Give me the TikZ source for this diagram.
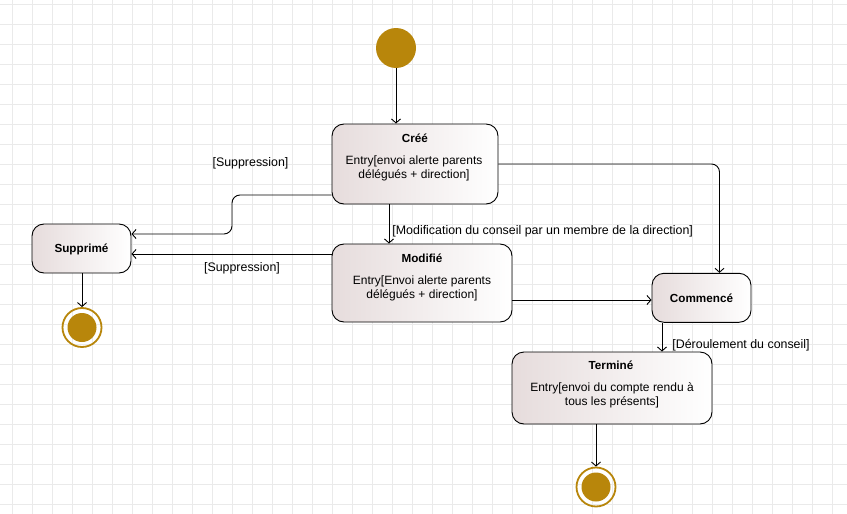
\documentclass[tikz,border=0pt]{standalone}
\usepackage{fontspec}
\setmainfont{Liberation Sans}
\usetikzlibrary{%
  arrows.meta,%
  positioning,%
  calc%
}
\definecolor{gold}{RGB}{184,134,11}
\definecolor{rose}{RGB}{230,220,220}
\definecolor{gridgray}{RGB}{234,234,234}

\begin{document}
\begin{tikzpicture}[
  x=1pt, y=-1pt,
  font=\fontsize{12}{14}\selectfont,
  >={Straight Barb[length=4pt,width=9pt]},
  line width=0.9pt,
  state/.style={rectangle, rounded corners=12pt, draw=black, line width=0.9pt, left color=rose, right color=white, inner sep=0pt},
  title/.style={font=\fontsize{11.7}{14}\selectfont\bfseries, inner sep=0pt},
  entry/.style={align=center, inner sep=0pt},
  guard/.style={font=\fontsize{12.4}{14}\selectfont, inner sep=0pt},
  initial/.style={circle, fill=gold, minimum size=40pt, inner sep=0pt},
  final/.style={circle, draw=gold, line width=1.8pt, minimum size=39pt, inner sep=0pt,
    path picture={\fill[gold] (path picture bounding box.center) circle (14.5pt);}},
  flow/.style={->, line width=0.9pt}
]

\useasboundingbox (0,0) rectangle (847,514);
\fill[white] (0,0) rectangle (847,514);
\foreach \x in {0,...,41} {
  \draw[gridgray, line width=0.8pt] (12.5+20*\x,0) -- (12.5+20*\x,514);
}
\foreach \y in {0,...,25} {
  \draw[gridgray, line width=0.8pt] (0,4.5+20*\y) -- (847,4.5+20*\y);
}

\node[initial] (start) at (396,48) {};

\node[state, minimum width=166pt, minimum height=80pt] (cree) at (415,164) {};
\node[title] (creeT) at (415,138) {Créé};
\node[entry] (creeE) at (414,168) {Entry[envoi alerte parents\\délégués + direction]};

\node[state, minimum width=180pt, minimum height=78pt] (modifie) at (422,283) {};
\node[title] (modifieT) at (422,258) {Modifié};
\node[entry] (modifieE) at (422,288) {Entry[Envoi alerte parents\\délégués + direction]};

\node[state, minimum width=99pt, minimum height=49pt] (supprime) at (81.5,248.5) {};
\node[title] (supprimeT) at (81.5,249) {Supprimé};

\node[state, minimum width=99pt, minimum height=49pt] (commence) at (701.5,297.8) {};
\node[title] (commenceT) at (701.5,298) {Commencé};

\node[state, minimum width=200pt, minimum height=72pt] (termine) at (612,388) {};
\node[title] (termineT) at (611,365) {Terminé};
\node[entry] (termineE) at (612,395) {Entry[envoi du compte rendu à\\tous les présents]};

\node[final] (fin1) at (82,327.5) {};
\node[final] (fin2) at (596,487) {};

\coordinate (k1) at (232,214);

\draw[flow] (start) -- (start |- cree.north);
\draw[flow, rounded corners=8pt] ([yshift=-31pt]cree.west) -| (k1) |- ([yshift=14.5pt]supprime.east);
\draw[flow] ([yshift=29pt]modifie.west) -- ([yshift=29pt]modifie.west -| supprime.east);
\draw[flow] ([xshift=-26pt]cree.south) -- ([xshift=-26pt]cree.south |- modifie.north);
\draw[flow, rounded corners=8pt] (cree.east) -| ([xshift=18pt]commence.north);
\draw[flow] ([yshift=-17pt]modifie.east) -- ([yshift=-17pt]modifie.east -| commence.west);
\draw[flow] ([xshift=-39.5pt]commence.south) -- ([xshift=-39.5pt]commence.south |- termine.north);
\draw[flow] (termine.south -| fin2) -- (fin2);
\draw[flow] (supprime.south -| fin1) -- (fin1);

\node[guard] (g1) at (250.5,163) {[Suppression]};
\node[guard] (g2) at (242,268) {[Suppression]};
\node[guard, anchor=west] (g3) at (392,231) {[Modification du conseil par un membre de la direction]};
\node[guard, anchor=west] (g4) at (672,345) {[Déroulement du conseil]};

\end{tikzpicture}
\end{document}
